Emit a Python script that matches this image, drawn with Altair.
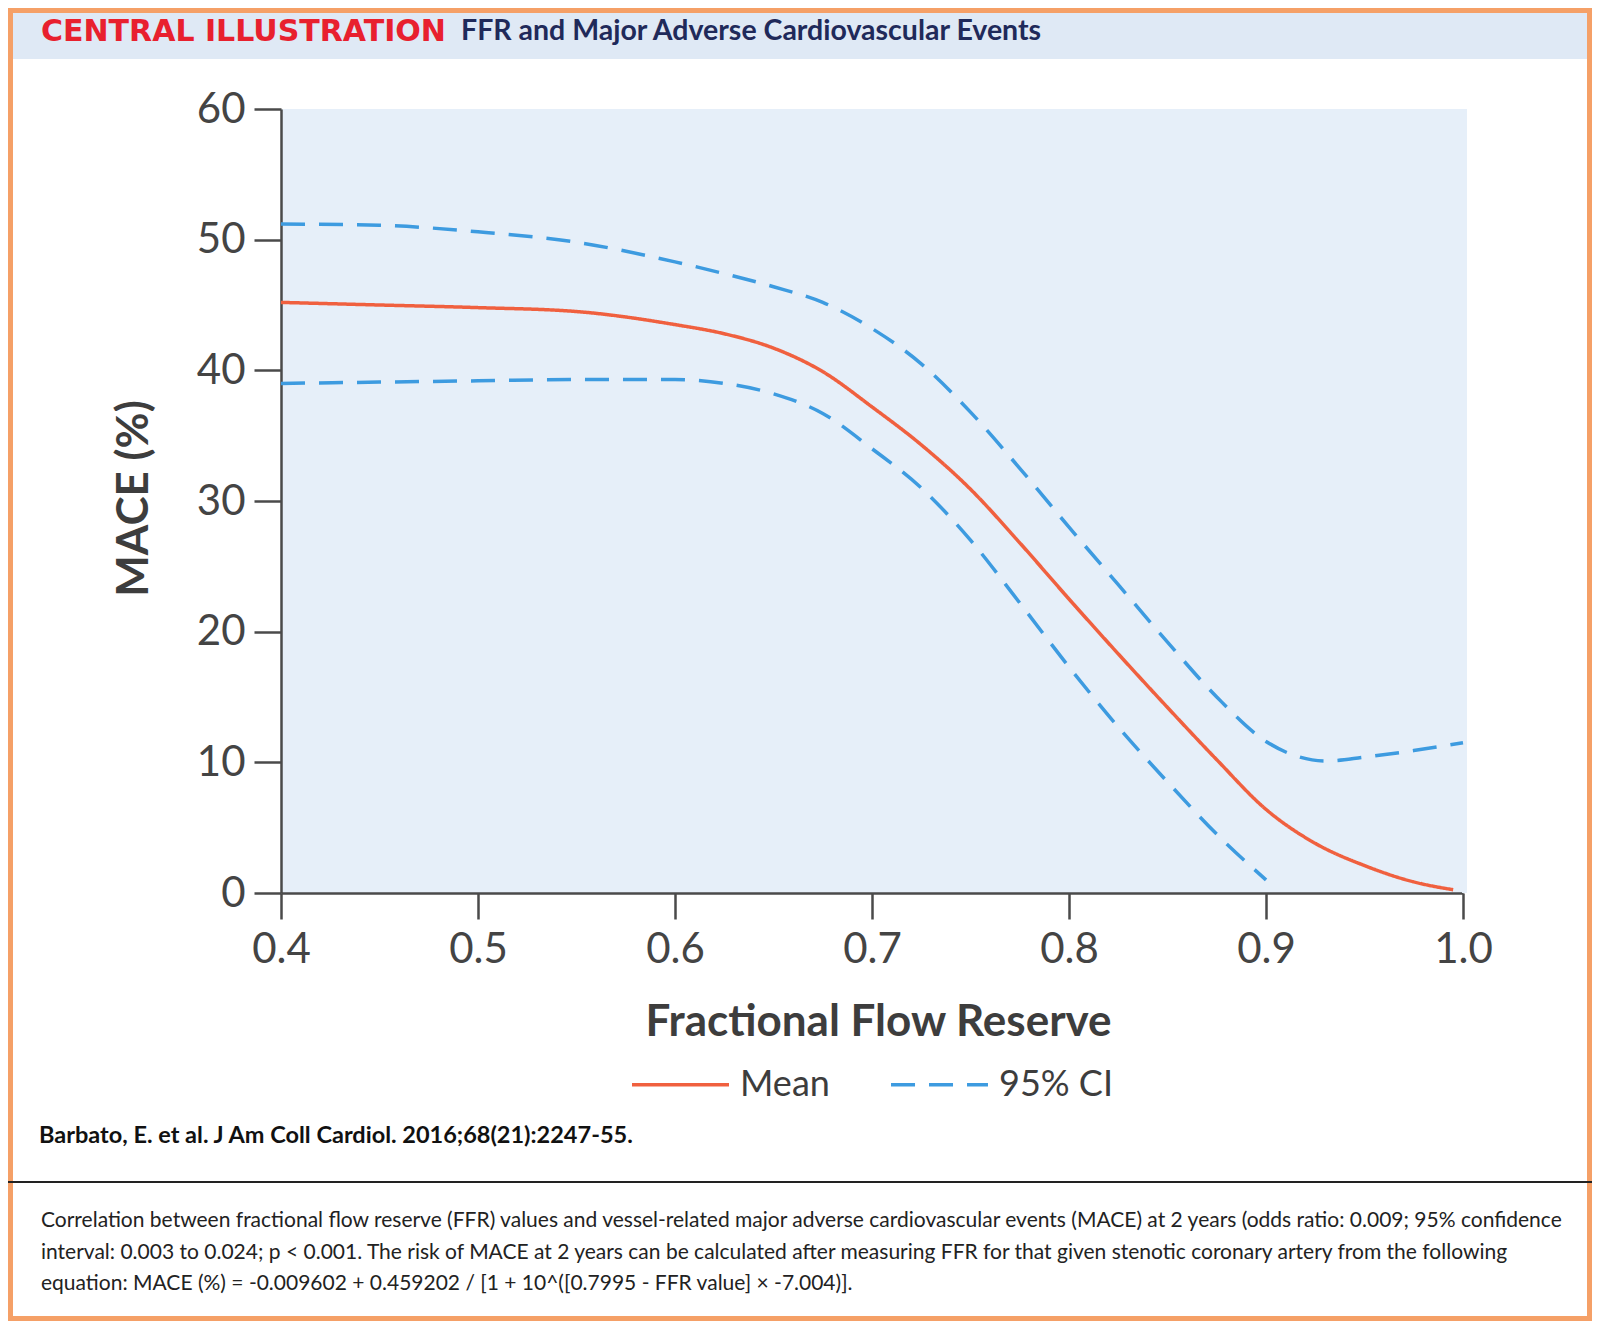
import altair as alt
import pandas as pd

# ---- data ----
ffr_mean = [0.40, 0.45, 0.50, 0.55, 0.60, 0.625, 0.65, 0.675, 0.70, 0.725, 0.75, 0.775,
            0.80, 0.825, 0.85, 0.875, 0.90, 0.925, 0.95, 0.975, 0.995]
mace_mean = [45.2, 45.0, 44.8, 44.5, 43.5, 42.8, 41.7, 39.9, 37.2, 34.3, 30.9, 26.8,
             22.5, 18.3, 14.2, 10.2, 6.4, 3.8, 2.1, 0.85, 0.25]

ffr_upper = [0.40, 0.45, 0.50, 0.55, 0.60, 0.625, 0.65, 0.675, 0.70, 0.725, 0.75, 0.775,
             0.80, 0.825, 0.85, 0.875, 0.90, 0.915, 0.93, 0.95, 0.975, 1.0]
mace_upper = [51.2, 51.1, 50.6, 49.8, 48.3, 47.4, 46.4, 45.2, 43.2, 40.5, 36.8, 32.5,
              28.0, 23.6, 19.2, 15.0, 11.6, 10.5, 10.1, 10.4, 10.9, 11.5]

ffr_lower = [0.40, 0.45, 0.50, 0.55, 0.60, 0.625, 0.65, 0.675, 0.70, 0.725, 0.75, 0.775,
             0.80, 0.825, 0.85, 0.875, 0.90]
mace_lower = [39.0, 39.1, 39.2, 39.3, 39.3, 39.0, 38.2, 36.7, 34.0, 31.0, 27.0, 22.2,
              17.3, 12.7, 8.5, 4.5, 1.0]

x_ticks = [0.4, 0.5, 0.6, 0.7, 0.8, 0.9, 1.0]
y_ticks = [0, 10, 20, 30, 40, 50, 60]
series_names = ["Mean", "95% CI"]

header_red = "CENTRAL ILLUSTRATION"
header_navy = "FFR and Major Adverse Cardiovascular Events"
citation = "Barbato, E. et al. J Am Coll Cardiol. 2016;68(21):2247-55."
caption_lines = [
    "Correlation between fractional flow reserve (FFR) values and vessel-related major adverse cardiovascular events (MACE) at 2 years (odds ratio: 0.009; 95% confidence",
    "interval: 0.003 to 0.024; p < 0.001. The risk of MACE at 2 years can be calculated after measuring FFR for that given stenotic coronary artery from the following",
    "equation: MACE (%) = -0.009602 + 0.459202 / [1 + 10^([0.7995 - FFR value] \u00d7 -7.004)].",
]

# ---- build table ----
rows = []
for f, v in zip(ffr_mean, mace_mean):
    rows.append({"ffr": f, "mace": v, "series": "Mean", "band": "mean"})
for f, v in zip(ffr_upper, mace_upper):
    rows.append({"ffr": f, "mace": v, "series": "95% CI", "band": "upper"})
for f, v in zip(ffr_lower, mace_lower):
    rows.append({"ffr": f, "mace": v, "series": "95% CI", "band": "lower"})
df = pd.DataFrame(rows)

W, H = 1182, 784
PL, PT, PR, PB = 273, 101, 129, 428
FONT = "Lato"
AXC = "#4a4a4a"

legend_kw = dict(title=None, orient="none", legendX=349, legendY=925,
                 direction="horizontal", symbolType="stroke",
                 symbolSize=9400, symbolStrokeWidth=3.5,
                 labelFont=FONT, labelFontSize=36, labelColor="#3d3d3d",
                 labelOffset=9, columnPadding=54, padding=0)

lines = alt.Chart(df).mark_line(strokeWidth=3.5, interpolate="monotone").encode(
    x=alt.X("ffr:Q", scale=alt.Scale(domain=[0.4, 1.0], nice=False, zero=False),
            axis=alt.Axis(values=x_ticks, format=".1f", title="Fractional Flow Reserve",
                          titleFont=FONT, titleFontSize=44, titleFontWeight="bold",
                          titleColor="#3d3d3d", titleX=597, titleY=142,
                          titleBaseline="alphabetic", titleAnchor="start", titleAlign="center",
                          labelFont=FONT, labelFontSize=42, labelColor="#444444",
                          labelPadding=10, tickSize=26, tickWidth=2.5, tickColor=AXC,
                          domainColor=AXC, domainWidth=2.5, grid=False,
                          labelFlush=False, labelOverlap=False)),
    y=alt.Y("mace:Q", scale=alt.Scale(domain=[0, 60], nice=False),
            axis=alt.Axis(values=y_ticks, title="MACE (%)",
                          titleFont=FONT, titleFontSize=44, titleFontWeight="bold",
                          titleColor="#3d3d3d", titleX=-125, titleY=389,
                          titleAnchor="start", titleAlign="center",
                          labelFont=FONT, labelFontSize=42, labelColor="#444444",
                          labelPadding=9, tickSize=27, tickWidth=2.5, tickColor=AXC,
                          domainColor=AXC, domainWidth=2.5, grid=False,
                          labelFlush=False, labelOverlap=False)),
    color=alt.Color("series:N", scale=alt.Scale(domain=series_names,
                                                range=["#f0603f", "#3d9be0"]),
                    legend=alt.Legend(**legend_kw)),
    strokeDash=alt.StrokeDash("series:N", scale=alt.Scale(domain=series_names,
                                                          range=[[1, 0], [24, 14]]),
                              legend=alt.Legend(**legend_kw)),
    detail="band:N",
)


def one_row(**kw):
    return pd.DataFrame([kw])


def text_layer(txt, x, y, size, color, weight="normal", font=FONT, align="left"):
    return alt.Chart(one_row(t=txt)).mark_text(
        align=align, baseline="alphabetic", font=font, fontSize=size,
        fontWeight=weight, color=color,
    ).encode(text="t:N", x=alt.value(x), y=alt.value(y))


# decorative page elements (title band, border, separator)
band = alt.Chart(one_row(k=1)).mark_rect(color="#dfe9f5").encode(
    x=alt.value(-PL), x2=alt.value(W + PR), y=alt.value(-PT), y2=alt.value(-50))
plotbg_ext = alt.Chart(one_row(k=1)).mark_rect(color="#e6eff9").encode(
    x=alt.value(W - 1), x2=alt.value(W + 4), y=alt.value(0), y2=alt.value(H))
border = alt.Chart(one_row(k=1)).mark_rect(filled=False, stroke="#f5a067", strokeWidth=5).encode(
    x=alt.value(-PL + 2.5), x2=alt.value(W + PR - 2.5),
    y=alt.value(-PT + 2.5), y2=alt.value(H + PB - 2.5))
sep = alt.Chart(one_row(k=1)).mark_rule(color="#222222", strokeWidth=2).encode(
    x=alt.value(-PL), x2=alt.value(W + PR), y=alt.value(1073))

t_red = text_layer(header_red, -240, -68, 30, "#e8202e", "bold", "DejaVu Sans")
t_navy = text_layer(header_navy, 180, -69, 28.5, "#1f2a5a", "bold")
t_cite = text_layer(citation, -242, 1034, 23.5, "#111111", "bold")
caption = alt.Chart(one_row(t="\n".join(caption_lines))).mark_text(
    align="left", baseline="alphabetic", font=FONT, fontSize=21, color="#222222",
    lineBreak="\n", lineHeight=31.5,
).encode(text="t:N", x=alt.value(-240), y=alt.value(1118))

chart = alt.layer(band, plotbg_ext, border, sep, lines, t_red, t_navy, t_cite, caption).properties(
    width=W, height=H,
    padding={"left": PL, "top": PT, "right": PR, "bottom": PB},
    autosize=alt.AutoSizeParams(type="none"),
    background="white",
).configure_view(fill="#e6eff9", stroke=None)

chart.save("out.html", embed_options={"renderer": "svg", "actions": False})
